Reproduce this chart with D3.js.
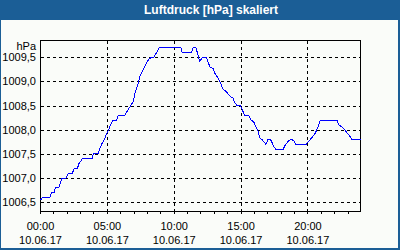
<!DOCTYPE html>
<html>
<head>
<meta charset="utf-8">
<script src="https://cdn.jsdelivr.net/npm/d3@7"></script>
<style>
  html, body { margin: 0; padding: 0; background: #fafcf9; }
  svg { display: block; }
</style>
</head>
<body>
<div id="chart"></div>
<script>
const title = "Luftdruck [hPa] skaliert";
const unit = "hPa";
const day = "2017-06-10";
const dateLabel = "10.06.17";

const times = [
  "00:00", "00:10", "00:42", "00:49", "01:01", "01:07", "01:22", "01:31", "01:37", "01:55",
  "02:04", "02:23", "02:31", "02:46", "02:52", "03:08", "03:51", "03:57", "04:18", "04:33",
  "04:48", "04:58", "05:10", "05:24", "05:42", "05:49", "06:19", "06:27", "06:42", "06:56",
  "07:04", "07:19", "07:26", "07:41", "07:56", "08:08", "08:29", "08:41", "08:52", "10:30",
  "10:36", "11:18", "11:25", "11:37", "11:45", "11:55", "12:03", "12:10", "12:25", "12:40",
  "12:55", "13:02", "13:17", "13:29", "13:39", "13:54", "14:05", "14:16", "14:23", "14:30",
  "14:42", "14:57", "15:07", "15:15", "15:33", "15:45", "15:56", "16:07", "16:14", "16:26",
  "16:36", "16:51", "17:02", "17:13", "17:28", "17:35", "18:09", "18:20", "18:35", "18:47",
  "18:57", "19:05", "19:52", "20:01", "20:11", "20:22", "20:34", "20:45", "20:56", "22:10",
  "22:18", "22:33", "22:45", "23:00", "23:10", "23:18", "23:56"
];
const values = [
  1006.55, 1006.6, 1006.6, 1006.7, 1006.7, 1006.8, 1006.8, 1006.93, 1007.0, 1007.0,
  1007.1, 1007.1, 1007.2, 1007.2, 1007.3, 1007.4, 1007.4, 1007.5, 1007.5, 1007.69,
  1007.82, 1007.93, 1008.05, 1008.2, 1008.2, 1008.3, 1008.3, 1008.37, 1008.48, 1008.58,
  1008.76, 1008.96, 1009.1, 1009.24, 1009.38, 1009.48, 1009.5, 1009.6, 1009.7, 1009.7,
  1009.6, 1009.6, 1009.7, 1009.7, 1009.58, 1009.41, 1009.48, 1009.5, 1009.5, 1009.3,
  1009.27, 1009.17, 1009.07, 1008.96, 1008.84, 1008.79, 1008.72, 1008.67, 1008.67, 1008.58,
  1008.5, 1008.5, 1008.4, 1008.3, 1008.3, 1008.2, 1008.17, 1008.06, 1008.0, 1007.82,
  1007.79, 1007.7, 1007.81, 1007.79, 1007.65, 1007.6, 1007.6, 1007.7, 1007.78, 1007.8,
  1007.77, 1007.7, 1007.7, 1007.75, 1007.8, 1007.86, 1007.94, 1008.06, 1008.2, 1008.2,
  1008.1, 1008.06, 1008.0, 1007.91, 1007.86, 1007.8, 1007.8
];

const yTicks = [1006.5, 1007.0, 1007.5, 1008.0, 1008.5, 1009.0, 1009.5];
const xTicks = ["00:00", "05:00", "10:00", "15:00", "20:00"];

const width = 400;
const height = 250;
const blue = "#1b5e96";

const parseTime = d3.timeParse("%Y-%m-%d %H:%M");
const toDate = (t) => parseTime(`${day} ${t}`);

const data = times.map((t, i) => ({ date: toDate(t), value: values[i] }));

const svg = d3
  .select("#chart")
  .append("svg")
  .attr("width", width)
  .attr("height", height)
  .attr("viewBox", [0, 0, width, height]);

svg.append("rect").attr("width", width).attr("height", height).attr("fill", "#fafcf9");

// title bar and window frame
svg.append("rect").attr("x", 0).attr("y", 0).attr("width", width).attr("height", 20).attr("fill", blue);
svg.append("rect").attr("x", 0).attr("y", 0).attr("width", 1).attr("height", height).attr("fill", blue);
svg.append("rect").attr("x", width - 2).attr("y", 0).attr("width", 2).attr("height", height).attr("fill", blue);
svg.append("rect").attr("x", 0).attr("y", height - 2).attr("width", width).attr("height", 2).attr("fill", blue);

svg
  .append("text")
  .attr("x", 211)
  .attr("y", 14)
  .attr("text-anchor", "middle")
  .attr("font-family", "'Liberation Sans', Arial, sans-serif")
  .attr("font-weight", "bold")
  .attr("font-size", 12)
  .attr("fill", "#ffffff")
  .text(title);

const x = d3
  .scaleTime()
  .domain([toDate("00:00"), toDate("23:56")])
  .range([40.5, 360.5]);

const y = d3.scaleLinear().domain([1006.32, 1009.858]).range([211, 40]);

const px = (v) => Math.round(v) + 0.5;

const plot = svg.append("g");

// horizontal grid
plot
  .selectAll(".hgrid")
  .data(yTicks)
  .join("line")
  .attr("x1", 41)
  .attr("x2", 360)
  .attr("y1", (d) => px(y(d)))
  .attr("y2", (d) => px(y(d)))
  .attr("stroke", "#000")
  .attr("stroke-dasharray", "3 3")
  .attr("shape-rendering", "crispEdges");

// vertical grid
plot
  .selectAll(".vgrid")
  .data(xTicks.slice(1))
  .join("line")
  .attr("x1", (d) => px(x(toDate(d)) - 0.5))
  .attr("x2", (d) => px(x(toDate(d)) - 0.5))
  .attr("y1", 41)
  .attr("y2", 214)
  .attr("stroke", "#000")
  .attr("stroke-dasharray", "3 3")
  .attr("shape-rendering", "crispEdges");

// hourly ticks under the axis
const xAxis = d3
  .axisBottom(x)
  .ticks(d3.timeHour.every(1))
  .tickSize(3)
  .tickFormat("");

const axisG = svg
  .append("g")
  .attr("transform", "translate(-0.5,211)")
  .call(xAxis);
axisG.select(".domain").remove();
axisG.selectAll("line").attr("stroke", "#000").attr("shape-rendering", "crispEdges");

// frame
svg
  .append("rect")
  .attr("x", 40.5)
  .attr("y", 40.5)
  .attr("width", 320)
  .attr("height", 171)
  .attr("fill", "none")
  .attr("stroke", "#000")
  .attr("shape-rendering", "crispEdges");

// line
const line = d3
  .line()
  .x((d) => x(d.date))
  .y((d) => y(d.value));

svg
  .append("path")
  .datum(data)
  .attr("d", line)
  .attr("fill", "none")
  .attr("stroke", "#0000ff")
  .attr("stroke-width", 1)
  .attr("shape-rendering", "crispEdges");

const font = "'Liberation Sans', Arial, sans-serif";

// y labels
svg
  .append("g")
  .selectAll("text")
  .data(yTicks)
  .join("text")
  .attr("x", 36)
  .attr("y", (d) => y(d) + 4)
  .attr("text-anchor", "end")
  .attr("font-family", font)
  .attr("font-size", 11)
  .attr("fill", "#000")
  .text((d) => d3.format(".1f")(d).replace(".", ","));

svg
  .append("text")
  .attr("x", 36)
  .attr("y", 50)
  .attr("text-anchor", "end")
  .attr("font-family", font)
  .attr("font-size", 11)
  .attr("fill", "#000")
  .text(unit);

// x labels
const xLab = svg
  .append("g")
  .selectAll("g")
  .data(xTicks)
  .join("g")
  .attr("transform", (d) => `translate(${x(toDate(d))},0)`);

xLab
  .append("text")
  .attr("y", 229.5)
  .attr("text-anchor", "middle")
  .attr("font-family", font)
  .attr("font-size", 11)
  .attr("fill", "#000")
  .text((d) => d);

xLab
  .append("text")
  .attr("y", 244)
  .attr("text-anchor", "middle")
  .attr("font-family", font)
  .attr("font-size", 11)
  .attr("fill", "#000")
  .text(dateLabel);
</script>
</body>
</html>
